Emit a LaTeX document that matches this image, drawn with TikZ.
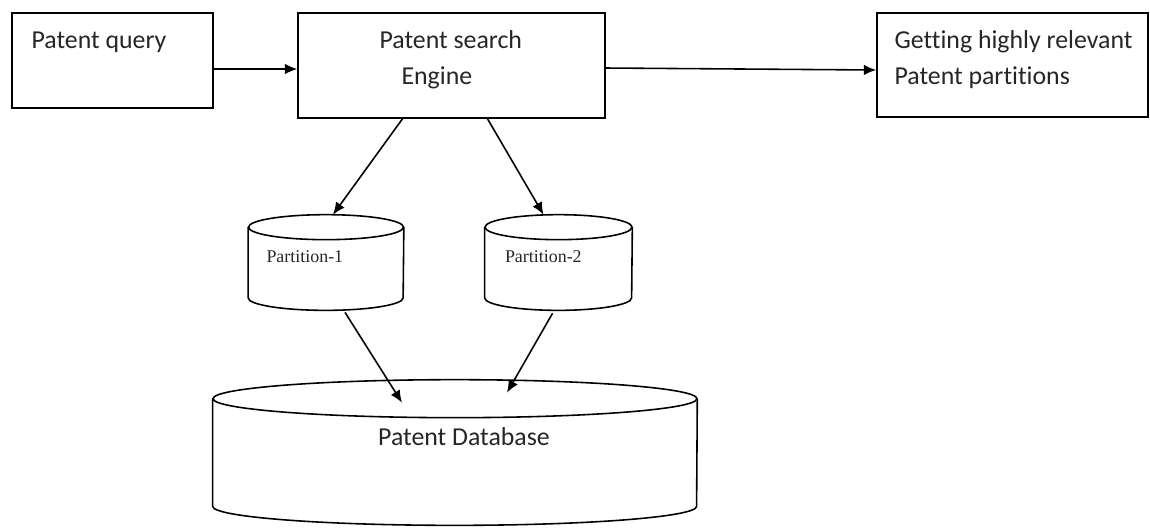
\documentclass[tikz,border=0pt]{standalone}
\usepackage{fontspec}
\setmainfont{Carlito}[Ligatures=CommonOff]
\newfontfamily\partfont{Liberation Serif}
\usetikzlibrary{positioning,arrows.meta}

\tikzset{
  box/.style={draw, rectangle, line width=0.9pt, inner sep=0pt},
  store/.style={rectangle, inner sep=0pt},
  txt/.style={font=\fontsize{14.7}{20.5}\selectfont, text=black!85, align=left, inner sep=0pt},
  parttxt/.style={font=\partfont\fontsize{10.2}{12}\selectfont, text=black!85, inner sep=0pt, anchor=base west},
  link/.style={->, line width=0.9pt},
}
% outline of a storage cylinder around node #1: half width #2, ellipse radius #3 (cm)
\newcommand{\storeoutline}[3]{%
  \draw[line width=0.9pt] ([yshift=-#3cm]#1.north) ellipse [x radius=#2cm, y radius=#3cm];
  \draw[line width=0.9pt] ([yshift=-#3cm]#1.north west) -- ([yshift=#3cm]#1.south west)
    arc [start angle=180, end angle=360, x radius=#2cm, y radius=#3cm]
    -- ([yshift=-#3cm]#1.north east);
}

\begin{document}
\begin{tikzpicture}[x=0.02cm, y=-0.02cm, >={Latex[length=7pt,width=6pt]}]
\useasboundingbox (0,0) rectangle (1150,529);

% boxes in the top row
\node[box, minimum width=4.02cm, minimum height=1.9cm] (query) at (112.5,60.5) {};
\node[box, minimum width=6.14cm, minimum height=2.1cm] (engine) at (451.5,65.5) {};
\node[box, minimum width=5.42cm, minimum height=2.08cm] (result) at (1012.5,65) {};

\node[txt, below right=0.38cm and 0.4cm of query.north west] (querytxt) {Patent query};
\node[txt, below right=0.36cm and 1.64cm of engine.north west] (enginetxt) {Patent search\\\hspace*{0.44cm}Engine};
\node[txt, below right=0.36cm and 0.36cm of result.north west] (resulttxt) {Getting highly relevant\\Patent partitions};

% partitions and the database
\node[store, minimum width=3.1cm, minimum height=1.9cm] (part1) at (326,262.5) {};
\node[store, minimum width=2.94cm, minimum height=1.9cm] (part2) at (558.5,262.5) {};
\node[store, minimum width=9.68cm, minimum height=2.9cm] (db) at (455,452.5) {};
\storeoutline{part1}{1.55}{0.25}
\storeoutline{part2}{1.47}{0.25}
\storeoutline{db}{4.84}{0.38}

\node[parttxt] (part1txt) at ([shift={(18,0)}]part1.west) {Partition-1};
\node[parttxt] (part2txt) at ([shift={(20,0)}]part2.west) {Partition-2};
\node[txt, anchor=base] (dbtxt) at ([shift={(9,-7.5)}]db.center) {Patent Database};

% arrows
\draw[link] ([shift={(0,8.5)}]query.east) -- ([shift={(0,3.5)}]engine.west);
\draw[link] ([shift={(0,2.5)}]engine.east) -- ([shift={(0,5)}]result.west);
\draw[link] ([shift={(-49,0)}]engine.south) -- ([shift={(7,0)}]part1.north);
\draw[link] ([shift={(36,0)}]engine.south) -- ([shift={(-15,0)}]part2.north);
\draw[link] ([shift={(19,2)}]part1.south) -- ([shift={(-53,23)}]db.north);
\draw[link] ([shift={(-6,3)}]part2.south) -- ([shift={(52,13)}]db.north);
\end{tikzpicture}
\end{document}
